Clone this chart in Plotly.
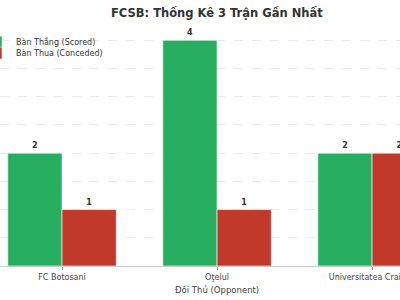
import plotly.graph_objects as go

opponents = ["FC Botosani", "Oţelul", "Universitatea Craiova"]
scored = [2, 4, 2]
conceded = [1, 1, 2]

title_text = "FCSB: Thống Kê 3 Trận Gần Nhất"
xaxis_title = "Đối Thủ (Opponent)"
name_scored = "Bàn Thắng (Scored)"
name_conceded = "Bàn Thua (Conceded)"

FONT = "DejaVu Sans"
fig = go.Figure()
fig.add_trace(go.Bar(
    x=opponents, y=scored, name=name_scored, legend="legend",
    marker=dict(color="#27ae60", line=dict(color="rgba(255,255,255,0.6)", width=1)),
    text=scored, texttemplate="<b>%{text}</b>", textposition="outside",
    textfont=dict(size=8, color="#333333", family=FONT), cliponaxis=False,
))
fig.add_trace(go.Bar(
    x=opponents, y=conceded, name=name_conceded, legend="legend2",
    marker=dict(color="#c0392b", line=dict(color="rgba(255,255,255,0.6)", width=1)),
    text=conceded, texttemplate="<b>%{text}</b>", textposition="outside",
    textfont=dict(size=8, color="#333333", family=FONT), cliponaxis=False,
))

leg_common = dict(x=-0.06, xanchor="left", yanchor="top",
                  bgcolor="rgba(255,255,255,0)", font=dict(size=8, color="#333333"))
fig.update_layout(
    width=400, height=300,
    margin=dict(l=0, r=0, t=29, b=34, autoexpand=False),
    paper_bgcolor="white", plot_bgcolor="white",
    barmode="group", bargap=0.3, bargroupgap=0,
    font=dict(family=FONT, size=8, color="#333333"),
    showlegend=True,
    legend=dict(y=1.006, **leg_common),
    legend2=dict(y=0.9595, **leg_common),
    xaxis=dict(range=[-0.4, 2.18], showline=True, linecolor="#cccccc", linewidth=1,
               ticks="outside", ticklen=3, tickcolor="#999999", automargin=False,
               tickfont=dict(size=8, color="#444444"), showgrid=False),
    yaxis=dict(range=[0, 4.2], dtick=0.5, showticklabels=False, showline=False,
               showgrid=True, gridcolor="#ebebeb", griddash="dash", gridwidth=1,
               zeroline=False, automargin=False),
    annotations=[
        dict(text="<b>" + title_text + "</b>", xref="x", x=1, yref="paper", y=1,
             yanchor="middle", yshift=16, showarrow=False,
             font=dict(size=11.5, color="#333333")),
        dict(text=xaxis_title, xref="x", x=1, yref="paper", y=0, yanchor="middle",
             yshift=-24, showarrow=False, font=dict(size=8.5, color="#444444")),
    ],
)
fig.write_html("out.html")
